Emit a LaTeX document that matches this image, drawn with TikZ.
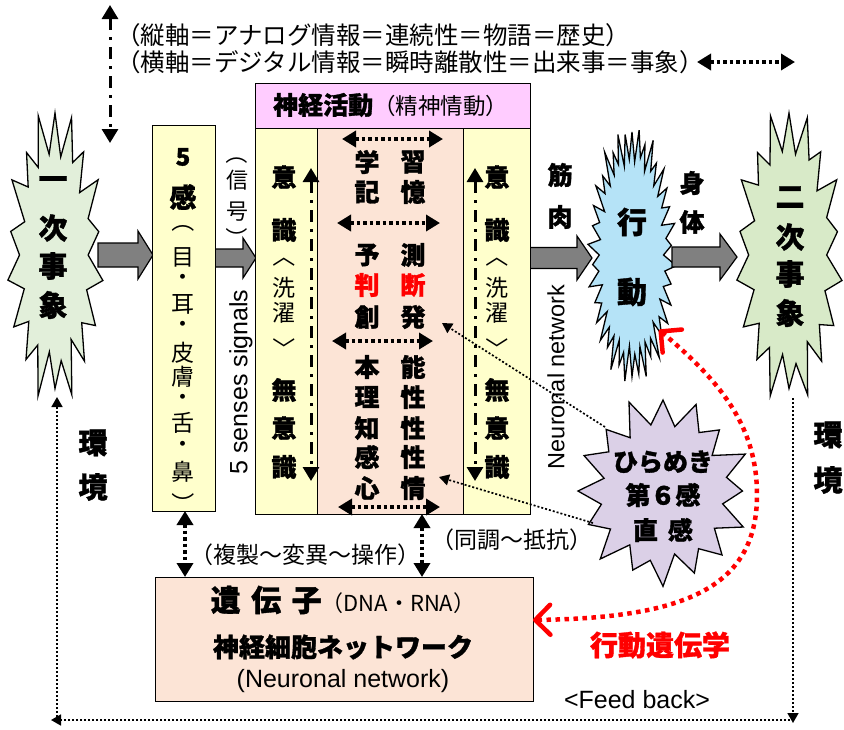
\documentclass[tikz,border=0pt]{standalone}
\usepackage{fontspec}
\usepackage{graphicx}
\setmainfont{Liberation Sans}
\newfontfamily\jp{Noto Sans CJK JP}[BoldFeatures={FakeBold=1.2}]
\usetikzlibrary{arrows.meta}
\definecolor{ybox}{HTML}{FFFFCC}
\definecolor{pbox}{HTML}{FCE4D6}
\definecolor{pinkc}{HTML}{FFCCFF}
\definecolor{gstarA}{HTML}{E2EFDA}
\definecolor{gstarB}{HTML}{D8EAC8}
\definecolor{bstar}{HTML}{B5E3F7}
\definecolor{vstar}{HTML}{DBD0E7}
\definecolor{redc}{HTML}{FF0000}
% spiky star: cx cy rx ry n inner fill
\newcommand\spiky[7]{%
  \pgfmathtruncatemacro\spn{#5-1}%
  \filldraw[fill=#7,draw=black,line width=1.3pt]
    ({#1},{#2-#4})
    \foreach \k in {1,...,\spn}{
      -- ({#1+#6*(1+0.05*sin(\k*211))*#3*sin((\k-0.5)*360/#5)},{#2-#6*(1+0.05*sin(\k*211))*#4*cos((\k-0.5)*360/#5)})
      -- ({#1+(1+0.06*sin(\k*151))*#3*sin(\k*360/#5)},{#2-(1+0.06*sin(\k*151))*#4*cos(\k*360/#5)})
    }
    -- ({#1+#6*#3*sin((#5-0.5)*360/#5)},{#2-#6*#4*cos((#5-0.5)*360/#5)}) -- cycle;}
% block arrow: x0 xh xt yc shafthalf headhalf
\newcommand\garrow[6]{%
  \filldraw[fill=gray,draw=black,line width=1.2pt,line join=miter]
    ({#1},{#4-#5}) -- ({#2},{#4-#5}) -- ({#2},{#4-#6}) -- ({#3},{#4})
    -- ({#2},{#4+#6}) -- ({#2},{#4+#5}) -- ({#1},{#4+#5}) -- cycle;}
\newcommand\vglyph[1]{\rotatebox[origin=c]{-90}{#1}}
\tikzset{
  mytri/.tip={Triangle[length=14pt,width=16pt]},
  smtri/.tip={Triangle[length=10pt,width=11pt]},
  rbarb/.tip={Straight Barb[length=15pt,width=30pt,round]},
  box/.style={draw=black,line width=1.3pt,inner sep=0pt,anchor=north west},
  jb/.style={font=\jp\bfseries\fontsize{25}{25}\selectfont,inner sep=0pt},
  jr/.style={font=\jp\fontsize{23}{23}\selectfont,inner sep=0pt},
  jstar/.style={font=\jp\bfseries\fontsize{29}{29}\selectfont,inner sep=0pt},
  lat/.style={font=\fontsize{25}{25}\selectfont,inner sep=0pt},
  dotdbl/.style={line width=3.5pt,dash pattern=on 3.5pt off 3pt,mytri-mytri},
  dashdotdbl/.style={line width=3pt,dash pattern=on 12pt off 7pt on 3pt off 7pt,mytri-mytri},
  thindot/.style={line width=1.7pt,dash pattern=on 2pt off 2pt},
  reddot/.style={draw=redc,line width=4.5pt,dash pattern=on 4.5pt off 4.5pt,rbarb-rbarb}
}
\begin{document}
\begin{tikzpicture}[x=1pt,y=-1pt]
\useasboundingbox (0,0) rectangle (844,729);

% ---------- top texts ----------
\node[jr,anchor=west,font=\jp\fontsize{24.5}{24.5}\selectfont] (top1) at (116,35) {（縦軸＝アナログ情報＝連続性＝物語＝歴史）};
\node[jr,anchor=west,font=\jp\fontsize{24.5}{24.5}\selectfont] (top2) at (116,62) {（横軸＝デジタル情報＝瞬時離散性＝出来事＝事象）};
\coordinate (ha) at (697,62); \coordinate (hb) at (795,62);
\draw[dotdbl] (ha) -- (hb);
\coordinate (va) at (110,5); \coordinate (vb) at (110,143);
\draw[dashdotdbl] (va) -- (vb);

% ---------- stars ----------
\spiky{55}{255}{47}{142}{18}{0.72}{gstarA}
\spiky{632}{255}{42}{123}{38}{0.78}{bstar}
\spiky{789}{255}{52}{142}{18}{0.74}{gstarB}
\spiky{663}{491}{84}{91}{16}{0.74}{vstar}

% ---------- block arrows ----------
\garrow{98}{138}{153}{255}{12}{24}
\garrow{215}{243}{256}{258}{9}{20}
\garrow{530}{577}{592}{258}{10.5}{22}
\garrow{672}{720}{737}{257}{10}{23}

% ---------- boxes ----------
\node[box,fill=ybox,minimum width=63pt,minimum height=386pt] (b5) at (152,125) {};
\node[box,fill=pinkc,minimum width=275pt,minimum height=45pt] (hdr) at (255,83) {};
\node[box,fill=ybox,minimum width=62pt,minimum height=386pt] (bl) at (255,128) {};
\node[box,fill=pbox,minimum width=146pt,minimum height=386pt] (bm) at (317,128) {};
\node[box,fill=ybox,minimum width=67pt,minimum height=386pt] (br) at (463,128) {};
\node[box,fill=pbox,minimum width=378pt,minimum height=124pt] (bg) at (155,577) {};

% header text
\node[anchor=west,inner sep=0pt] (hdrt) at (273,105)
  {{\jp\bfseries\fontsize{25}{25}\selectfont 神経活動}{\jp\fontsize{22.5}{22.5}\selectfont（精神情動）}};

% ---------- star texts ----------
\foreach \c/\yy in {一/183,次/228,事/266,象/305} \node[jstar] (ls\yy) at (53,\yy) {\c};
\foreach \c/\yy in {二/197,次/237,事/274,象/313} \node[jstar] (rs\yy) at (790,\yy) {\c};
\node[jstar,font=\jp\bfseries\fontsize{30}{30}\selectfont] (kou) at (632,222) {行};
\node[jstar,font=\jp\bfseries\fontsize{30}{30}\selectfont] (dou) at (632,292) {動};
\node[jb] (hira) at (663,462) {ひらめき};
\node[jb] (dai6) at (663,495) {第６感};
\node[jb] (choku) at (663,530) {直\hspace{0.4em}感};

% ---------- 5 senses box ----------
\node[jb,font=\jp\bfseries\fontsize{24}{24}\selectfont] (five) at (183,157) {5};
\node[jb,font=\jp\bfseries\fontsize{27}{27}\selectfont] (kan) at (183,197) {感};
\node[jr] (sp1) at (183,221) {\vglyph{（}};
\foreach \c/\yy in {目/257,・/280,耳/304,・/327,皮/353,膚/377,・/400,舌/423,・/447,鼻/472}
  \node[jr] (s\yy) at (183,\yy) {\c};
\node[jr] (sp2) at (183,504) {\vglyph{）}};

% signal
\node[jr,font=\jp\fontsize{22}{22}\selectfont] (gp1) at (237,153) {\vglyph{（}};
\node[jr,font=\jp\fontsize{22}{22}\selectfont] (gsin) at (237,180) {信};
\node[jr,font=\jp\fontsize{22}{22}\selectfont] (ggo) at (237,212) {号};
\node[jr,font=\jp\fontsize{22}{22}\selectfont] (gp2) at (237,238) {\vglyph{）}};
\node[lat,rotate=90] (sss) at (241,382) {5 senses signals};

% ---------- left / right consciousness boxes ----------
\foreach \xx/\nm in {284/L,497/R}{
  \foreach \c/\yy in {意/177,識/230,無/390,意/428,識/467}
    \node[jb] (\nm b\yy) at (\xx,\yy) {\c};
  \foreach \c/\yy in {洗/288,濯/313}
    \node[jr] (\nm r\yy) at (\xx,\yy) {\c};
  \node[jr] (\nm a1) at (\xx,256) {\vglyph{〈}};
  \node[jr] (\nm a2) at (\xx,349) {\vglyph{〉}};
}
\coordinate (la) at (311,168); \coordinate (lb) at (311,481);
\coordinate (ra) at (475,168); \coordinate (rb) at (475,481);
\draw[dashdotdbl] (la) -- (lb);
\draw[dashdotdbl] (ra) -- (rb);

% ---------- middle box ----------
\foreach \c/\d/\yy in {学/習/162,記/憶/192,予/測/255,創/発/317,本/能/367,理/性/397,知/性/428,感/性/457,心/情/488}{
  \node[jb] (m1\yy) at (367,\yy) {\c};
  \node[jb] (m2\yy) at (413,\yy) {\d};
}
\node[jb,text=redc] (han) at (367,285) {判};
\node[jb,text=redc] (dan) at (413,285) {断};
\coordinate (d1a) at (342,139); \coordinate (d1b) at (443,139);
\coordinate (d2a) at (337,223); \coordinate (d2b) at (440,223);
\coordinate (d3a) at (332,341); \coordinate (d3b) at (433,341);
\coordinate (d4a) at (338,507); \coordinate (d4b) at (440,507);
\draw[dotdbl] (d1a) -- (d1b);
\draw[dotdbl] (d2a) -- (d2b);
\draw[dotdbl] (d3a) -- (d3b);
\draw[dotdbl] (d4a) -- (d4b);

% ---------- right side labels ----------
\node[jb] (kin) at (560,175) {筋};
\node[jb] (niku) at (560,217) {肉};
\node[lat,rotate=90,font=\fontsize{23.5}{23.5}\selectfont] (nn) at (556,377) {Neuronal network};
\node[jb] (shin) at (692,183) {身};
\node[jb] (tai) at (692,222) {体};
\node[jstar] (kan1) at (93,443) {環};
\node[jstar] (kyo1) at (93,487) {境};
\node[jstar] (kan2) at (828,435) {環};
\node[jstar] (kyo2) at (828,480) {境};

% dotted arrows from intuition star
\coordinate (p1) at (605,427); \coordinate (q1) at (442,323);
\coordinate (p2) at (593,523); \coordinate (q2) at (439,477);
\draw[thindot,-smtri] (p1) -- (q1);
\draw[thindot,-smtri] (p2) -- (q2);

% ---------- gene box ----------
\node[inner sep=0pt] (gene) at (343,600)
  {{\jp\bfseries\fontsize{30}{30}\selectfont 遺\hspace{0.35em}伝\hspace{0.35em}子}{\jp\fontsize{22}{22}\selectfont（DNA・RNA）}};
\node[jb,font=\jp\bfseries\fontsize{26}{26}\selectfont] (nw) at (343,647) {神経細胞ネットワーク};
\node[lat] (nwe) at (343,681) {(Neuronal network)};

\coordinate (ga) at (185,511); \coordinate (gb) at (185,577);
\coordinate (gc) at (422,514); \coordinate (gd) at (422,577);
\draw[dotdbl] (ga) -- (gb);
\draw[dotdbl] (gc) -- (gd);
\node[jr] (fukusei) at (305,555) {（複製～変異～操作）};
\node[jr] (docho) at (512,540) {（同調～抵抗）};

% ---------- behavioural genetics ----------
\coordinate (rtop) at (659,330); \coordinate (rmid) at (757,495); \coordinate (rbot) at (533,620);
\draw[reddot] (rbot) .. controls (680,618) and (757,590) .. (rmid)
  .. controls (757,430) and (725,385) .. (rtop);
\node[jb,text=redc,font=\jp\bfseries\fontsize{28}{28}\selectfont] (kig) at (660,645) {行動遺伝学};

% ---------- feedback ----------
\coordinate (f1) at (793,398); \coordinate (f2) at (793,723);
\coordinate (f3) at (790,720); \coordinate (f4) at (51,720);
\coordinate (f5) at (57,717); \coordinate (f6) at (57,397);
\draw[thindot,-smtri] (f1) -- (f2);
\draw[thindot,-smtri] (f3) -- (f4);
\draw[thindot,-smtri] (f5) -- (f6);
\node[lat] (fb) at (637,700) {<Feed back>};
\end{tikzpicture}
\end{document}
